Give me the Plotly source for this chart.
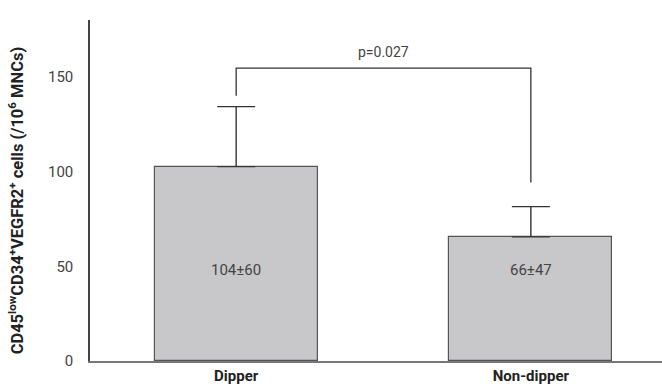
import plotly.graph_objects as go

groups = ["Dipper", "Non-dipper"]
means = [102.6, 65.5]
errors = [31.7, 16.0]
bar_labels = ["104±60", "66±47"]
label_y = [48, 48]
tick_vals = [0, 50, 100, 150]
bracket_x = [0, 0, 1, 1]
bracket_y = [140, 154.6, 154.6, 94.2]
p_text = "p=0.027"
p_y = 158

fig = go.Figure()
fig.add_trace(go.Bar(
    x=[0, 1], y=means, width=0.553,
    marker=dict(color="#c8c8ca", line=dict(color="#555555", width=1.2)),
    error_y=dict(type="data", array=errors, symmetric=False, arrayminus=[0, 0],
                 color="#333333", thickness=1.4, width=19),
    showlegend=False, hoverinfo="skip",
))
fig.add_trace(go.Scatter(
    x=bracket_x, y=bracket_y, mode="lines",
    line=dict(color="#333333", width=1.3), showlegend=False, hoverinfo="skip",
))
for i, t in enumerate(bar_labels):
    fig.add_annotation(x=i, y=label_y[i], text=t, showarrow=False,
                       font=dict(family="Roboto", size=15, color="#444444"))
fig.add_annotation(x=0.5, y=p_y, text=p_text, showarrow=False, yanchor="bottom",
                   font=dict(family="Roboto", size=14, color="#444444"))
fig.add_annotation(
    xref="paper", yref="paper", x=-0.13, y=0.47, textangle=-90,
    text="CD45<sup>low</sup>CD34<sup>+</sup>VEGFR2<sup>+</sup> cells (/10<sup>6</sup> MNCs)",
    showarrow=False, xanchor="center", yanchor="middle",
    font=dict(family="Roboto", size=16.5, color="#222222", weight="bold"),
)

fig.update_layout(
    width=662, height=387,
    margin=dict(l=90, r=0, t=20, b=26),
    plot_bgcolor="white", paper_bgcolor="white",
    bargap=0,
    xaxis=dict(
        range=[-0.496, 1.445], tickvals=[0, 1], ticktext=["<b>Dipper</b>", "<b>Non-dipper</b>"],
        showgrid=False, zeroline=False, showline=True, linecolor="#777777", linewidth=2,
        ticks="", tickfont=dict(family="Roboto", size=15, color="#222222"),
    ),
    yaxis=dict(
        range=[0, 180], tickvals=tick_vals, showgrid=False, zeroline=False,
        showline=True, linecolor="#444444", linewidth=1.5, ticks="",
        ticklabelstandoff=12,
        tickfont=dict(family="Roboto", size=15, color="#444444"),
    ),
)
fig.write_html("out.html", config={"displayModeBar": False},
               post_script="document.body.style.margin='0';document.body.style.overflow='hidden';")
